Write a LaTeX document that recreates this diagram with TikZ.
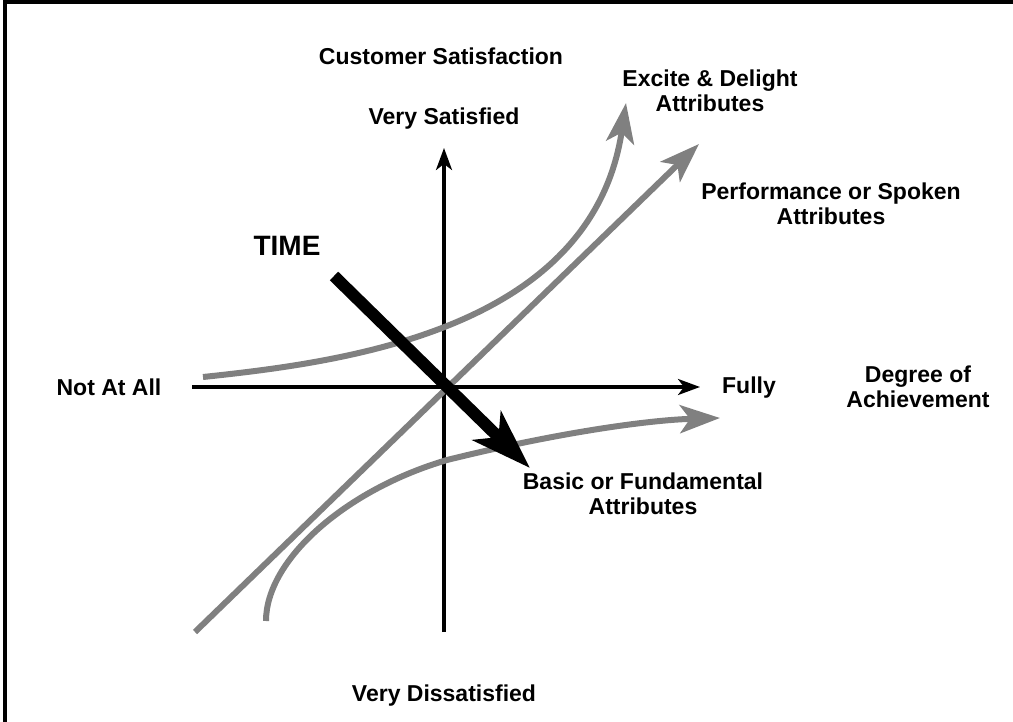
\documentclass[tikz,border=0pt]{standalone}
\usepackage{fontspec}
\setmainfont{Liberation Sans}
\usetikzlibrary{arrows.meta,positioning}
\definecolor{colorcurve}{rgb}{0.50, 0.50, 0.50}
\tikzstyle{axislabel}=[font=\fontsize{23}{25}\selectfont\bfseries, align=center, inner sep=0pt]
\tikzstyle{axis}=[draw=black, line width=3.2pt, -{Stealth[length=22pt, width=16pt, inset=6pt]}]
\tikzstyle{attribute}=[draw=colorcurve, line width=6pt, -{Stealth[length=40pt, width=28pt, inset=10pt]}]
\tikzstyle{timearrow}=[draw=black, line width=12pt, -{Stealth[length=60pt, width=40pt, inset=16pt]}]

\begin{document}
\begin{tikzpicture}[x=1pt, y=-1pt]
		\useasboundingbox (0,0) rectangle (1013,722);
		\draw[line width=4pt] (5,722) -- (5,2) -- (1013,2);
		
		% axes
		\coordinate (o) at (444,387);
		\coordinate (xl) at (192,387);
		\coordinate (xr) at (700,387);
		\coordinate (yb) at (444,632);
		\coordinate (yt) at (444,148);
		
		% curve ends
		\coordinate (e1) at (203,377);
		\coordinate (e2) at (626,103);
		\coordinate (p1) at (195,632);
		\coordinate (p2) at (699,144);
		\coordinate (b1) at (266,621);
		\coordinate (bm) at (447,460);
		\coordinate (b2) at (720,418);
		\coordinate (t1) at (334,276);
		\coordinate (t2) at (530,468);
		
		\node[axislabel] at (441,56) (custsat) {Customer Satisfaction};
		\node[axislabel] at (444,119) (verysat) {Very Satisfied};
		\node[axislabel] at (444,696) (verydis) {Very Dissatisfied};
		\node[axislabel] at (109,387) (notatall) {Not At All};
		\node[axislabel] at (749,388) (fully) {Fully};
		\node[axislabel] at (918,387) (degree) {Degree of\\Achievement};
		\node[axislabel] at (710,91) (excite) {Excite \& Delight\\Attributes};
		\node[axislabel] at (831,204) (perform) {Performance or Spoken\\Attributes};
		\node[axislabel] at (643,494) (basic) {Basic or Fundamental\\Attributes};
		\node[axislabel, font=\fontsize{28}{30}\selectfont\bfseries] at (287,246) (time) {TIME};
		
		\path (xl) edge[axis] (xr);
		\path (yb) edge[axis] (yt);
		
		\draw[attribute] (p1) -- (p2);
		\draw[attribute] (e1) .. controls (345,362) and (592,330) .. (e2);
		\draw[attribute] (b1) .. controls (266,560) and (345,490) .. (bm) .. controls (560,432) and (650,420) .. (b2);
		
		\draw[timearrow] (t1) -- (t2);
		
\end{tikzpicture}
\end{document}
